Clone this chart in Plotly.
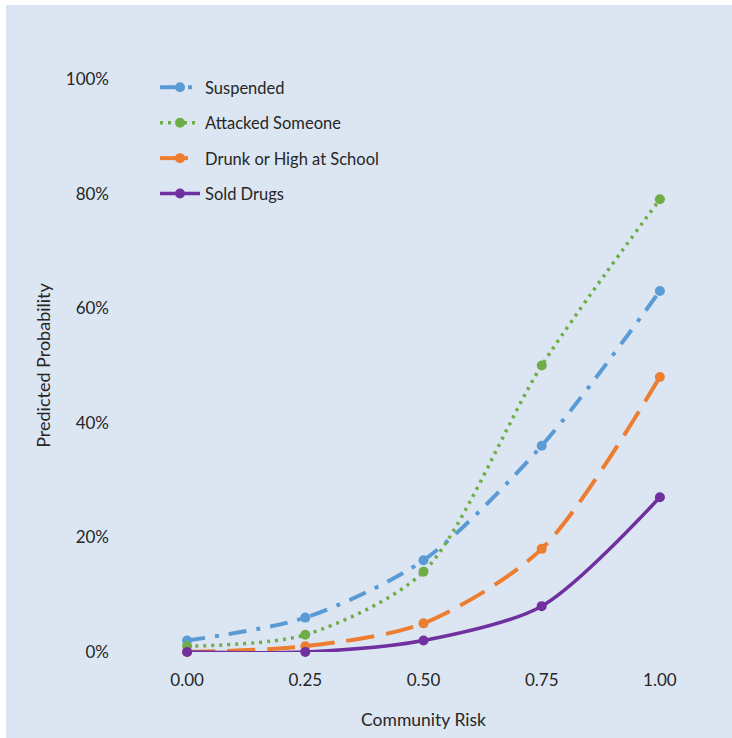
import plotly.graph_objects as go

community_risk = [0.0, 0.25, 0.5, 0.75, 1.0]
x_tick_labels = ["0.00", "0.25", "0.50", "0.75", "1.00"]
suspended = [0.02, 0.06, 0.16, 0.36, 0.63]
attacked = [0.01, 0.03, 0.14, 0.50, 0.79]
drunk_high = [0.00, 0.01, 0.05, 0.18, 0.48]
sold_drugs = [0.00, 0.00, 0.02, 0.08, 0.27]
y_ticks = [0, 0.2, 0.4, 0.6, 0.8, 1.0]
y_tick_labels = ["0%", "20%", "40%", "60%", "80%", "100%"]

BG = "#DCE6F2"
FONT = "Lato"
TXT = "#262626"

series = [
    ("Suspended", suspended, "#5B9BD5", "18px,10px,4px,10px", 4),
    ("Attacked Someone", attacked, "#70AD47", "3px,5px", 3.5),
    ("Drunk or High at School", drunk_high, "#ED7D31", "28px,12px", 4),
    ("Sold Drugs", sold_drugs, "#7030A0", "solid", 3.5),
]

fig = go.Figure()
for name, vals, color, dash, w in series:
    fig.add_trace(go.Scatter(
        x=community_risk, y=vals, name=name, mode="lines+markers",
        line=dict(color=color, width=w, dash=dash, shape="spline", smoothing=0.8),
        marker=dict(color=color, size=10, symbol="circle"),
        cliponaxis=False, legendgroup=name,
    ))

# figure placed at (6,5) on the page, filling to the window edges
W, H = 726, 733
ml, mt, mr, mb = 122, 74, 13, 86
pw = W - ml - mr
ph = H - mt - mb

fig.update_layout(
    width=W, height=H,
    margin=dict(l=ml, r=mr, t=mt, b=mb, autoexpand=False),
    paper_bgcolor=BG, plot_bgcolor=BG,
    font=dict(family=FONT, color=TXT, size=17),
    showlegend=True,
    legend=dict(
        x=27 / pw, y=(ph + 9) / ph, xanchor="left", yanchor="top",
        bgcolor="rgba(0,0,0,0)", font=dict(size=16.5, family=FONT, color=TXT),
        tracegroupgap=11, itemwidth=40,
    ),
    xaxis=dict(
        range=[-0.125, 1.125], tickvals=community_risk, ticktext=x_tick_labels,
        showgrid=False, zeroline=False, showline=False, ticks="",
        ticklabelstandoff=16, tickfont=dict(size=17),
        title=dict(text="Community Risk", font=dict(size=17.5), standoff=24),
        fixedrange=True,
    ),
    yaxis=dict(
        range=[0, 1], tickvals=y_ticks, ticktext=y_tick_labels,
        showgrid=False, zeroline=False, showline=False, ticks="",
        ticklabelstandoff=18, tickfont=dict(size=17),
        title=dict(text="Predicted Probability", font=dict(size=18), standoff=10),
        fixedrange=True,
    ),
)

fig.write_html(
    "out.html",
    post_script="document.body.style.margin='5px 0 0 6px';"
                "document.documentElement.style.overflow='hidden';"
                "document.body.style.overflow='hidden';",
)
